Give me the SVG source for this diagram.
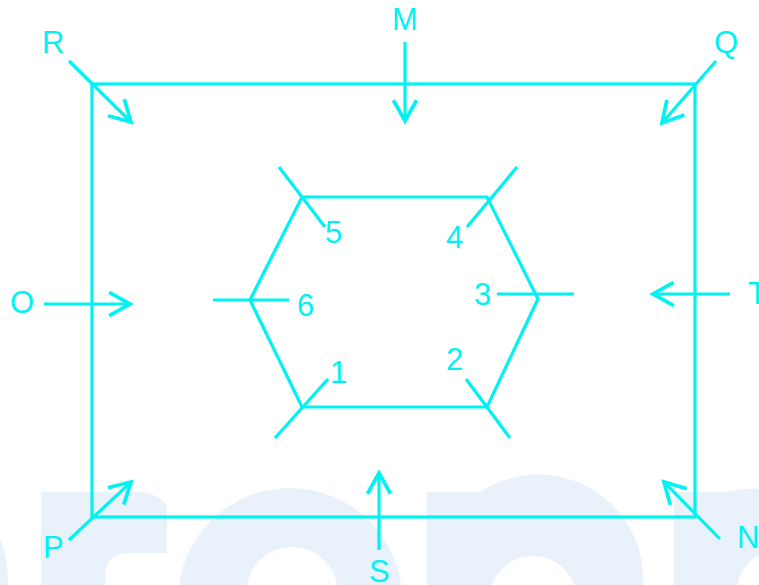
<svg xmlns="http://www.w3.org/2000/svg" width="759" height="585" viewBox="0 0 759 585">
<style>
.ln{stroke:#00f2f2;stroke-width:3.2;fill:none}
.ar{stroke:#00f2f2;stroke-width:3.2;fill:none;marker-end:url(#head)}
.lb{fill:#00f2f2;font-family:"Liberation Sans",Arial,sans-serif;font-size:31px}
.wm{fill:#e9f1fb}
.wh{fill:#ffffff}
</style>
<defs>
<marker id="head" markerUnits="userSpaceOnUse" markerWidth="30" markerHeight="30" viewBox="-22 -13 26 26" refX="0" refY="0" orient="auto">
<path d="M-18,-10 L0,0 L-18,10" fill="none" stroke="#00f2f2" stroke-width="3.2"/>
</marker>
</defs>
<rect width="759" height="585" fill="#ffffff"/>
<g id="watermark">
<circle class="wm" cx="-100" cy="580" r="108"/>
<path class="wm" d="M41,585 V492 H135 A40,40 0 0 1 167,505 V585 Z"/>
<path class="wh" d="M105,585 V575 A22,22 0 0 1 127,553 H167 V585 Z"/>
<circle class="wm" cx="290" cy="600" r="112"/>
<circle class="wh" cx="292" cy="593" r="46"/>
<path class="wm" d="M427,585 V492 H480 A105,105 0 0 1 643,585 Z"/>
<path class="wh" d="M489,600 A44,44 0 0 1 577,600 V585 H489 Z"/>
<path class="wm" d="M674,585 V492 H727 A105,105 0 0 1 800,500 V585 Z"/>
<path class="wh" d="M737,585 V598 A44,44 0 0 1 810,560 V585 Z"/>
</g>
<g id="frame">
<rect class="ln" x="92" y="84" width="603" height="433"/>
</g>
<g id="hexagon">
<polygon class="ln" points="302,197 487,197 538,299 487,407 302,407 250,300"/>
</g>
<g id="connectors">
<line class="ar" x1="69" y1="61" x2="131" y2="122"/>
<line class="ar" x1="405" y1="42" x2="405" y2="121"/>
<line class="ar" x1="716" y1="61" x2="662" y2="123"/>
<line class="ar" x1="44" y1="304" x2="130" y2="304"/>
<line class="ar" x1="730" y1="294" x2="653" y2="294"/>
<line class="ar" x1="69" y1="540" x2="131" y2="482"/>
<line class="ar" x1="379" y1="550" x2="379" y2="473"/>
<line class="ar" x1="720" y1="539" x2="664" y2="482"/>
<line class="ln" x1="279" y1="167" x2="325" y2="227"/>
<line class="ln" x1="517" y1="167" x2="467" y2="227"/>
<line class="ln" x1="213" y1="300" x2="289" y2="300"/>
<line class="ln" x1="497" y1="294" x2="574" y2="294"/>
<line class="ln" x1="275" y1="438" x2="328" y2="379"/>
<line class="ln" x1="510" y1="438" x2="466" y2="379"/>
</g>
<g id="labels">
<text class="lb" x="42" y="53">R</text>
<text class="lb" x="392" y="30">M</text>
<text class="lb" x="714" y="53">Q</text>
<text class="lb" x="10" y="313">O</text>
<text class="lb" x="748" y="304">T</text>
<text class="lb" x="43" y="558">P</text>
<text class="lb" x="369" y="582">S</text>
<text class="lb" x="737" y="548">N</text>
<text class="lb" x="325" y="243">5</text>
<text class="lb" x="446" y="248">4</text>
<text class="lb" x="297" y="316">6</text>
<text class="lb" x="474" y="305">3</text>
<text class="lb" x="330" y="383">1</text>
<text class="lb" x="446" y="370">2</text>
</g>
</svg>
